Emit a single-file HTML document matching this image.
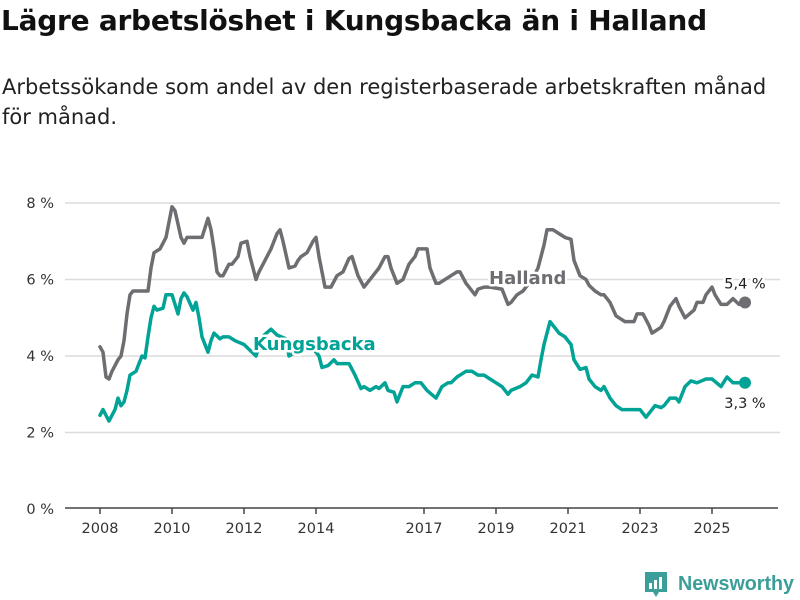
<!DOCTYPE html>
<html><head><meta charset="utf-8">
<style>
body{margin:0;background:#fff;font-family:"DejaVu Sans",sans-serif;}
#wrap{position:relative;width:800px;height:600px;overflow:hidden;}
h1{position:absolute;left:1px;top:4px;margin:0;font-size:28px;font-weight:bold;color:#111;letter-spacing:-0.25px;white-space:nowrap;}
p.sub{position:absolute;left:2px;top:72px;margin:0;font-size:21px;line-height:30px;color:#222;width:795px;letter-spacing:0;}
svg{position:absolute;left:0;top:0;}
</style></head><body>
<div id="wrap">
<h1>Lägre arbetslöshet i Kungsbacka än i Halland</h1>
<p class="sub">Arbetssökande som andel av den registerbaserade arbetskraften månad för månad.</p>
<svg id="chart" width="800" height="600"></svg>
</div>
<script>
const yTicks=[0,2,4,6,8];
const xTickYears=[2008,2010,2012,2014,2017,2019,2021,2023,2025];
const hallandMonths=[0,1,2,3,4,6,7,8,9,10,11,13,16,17,18,20,22,23,24,25,27,28,29,34,35,36,37,38,39,40,41,43,44,46,47,49,50,52,53,55,57,59,60,61,63,65,66,67,69,71,72,73,75,77,79,81,83,84,86,88,91,93,95,96,97,99,101,103,105,106,109,110,112,113,115,117,119,120,122,123,125,126,128,130,134,136,137,139,141,142,144,146,148,149,151,152,153,155,157,158,160,162,163,165,167,168,170,172,173,175,178,179,181,183,184,187,188,190,192,193,195,198,199,201,202,204,205,207,209,211,213,215];
const hallandValues=[4.24,4.1,3.45,3.4,3.6,3.9,4.0,4.4,5.1,5.6,5.7,5.7,5.7,6.3,6.7,6.8,7.1,7.5,7.9,7.8,7.1,6.95,7.1,7.1,7.35,7.6,7.3,6.8,6.2,6.1,6.1,6.4,6.4,6.6,6.95,7.0,6.6,6.0,6.2,6.5,6.8,7.2,7.3,7.0,6.3,6.35,6.5,6.6,6.7,7.0,7.1,6.6,5.8,5.8,6.1,6.2,6.55,6.6,6.1,5.8,6.1,6.3,6.6,6.6,6.3,5.9,6.0,6.4,6.6,6.8,6.8,6.3,5.9,5.9,6.0,6.1,6.2,6.2,5.9,5.8,5.6,5.75,5.8,5.8,5.75,5.35,5.4,5.6,5.7,5.8,6.0,6.3,6.9,7.3,7.3,7.25,7.2,7.1,7.05,6.5,6.1,6.0,5.85,5.7,5.6,5.6,5.4,5.05,5.0,4.9,4.9,5.1,5.1,4.8,4.6,4.75,4.9,5.3,5.5,5.3,5.0,5.2,5.4,5.4,5.6,5.8,5.6,5.35,5.35,5.5,5.35,5.4];
const kungsMonths=[0,1,2,3,5,6,7,8,9,10,12,13,14,15,16,17,18,19,21,22,24,25,26,27,28,29,31,32,33,34,36,37,38,40,41,43,45,48,52,54,57,59,62,63,67,70,73,74,76,78,79,83,85,87,88,90,92,93,95,96,98,99,101,103,105,107,109,112,114,116,117,119,122,124,126,128,130,132,134,136,137,140,142,144,146,147,148,149,150,152,153,155,157,158,160,162,163,165,167,168,170,172,174,176,180,182,183,185,187,188,190,192,193,195,197,199,202,204,207,209,211,213,215];
const kungsValues=[2.45,2.6,2.45,2.3,2.6,2.9,2.7,2.8,3.1,3.5,3.6,3.8,4.0,3.95,4.5,5.0,5.3,5.2,5.25,5.6,5.6,5.35,5.1,5.5,5.65,5.55,5.2,5.4,5.0,4.5,4.1,4.4,4.6,4.45,4.5,4.5,4.4,4.3,4.0,4.5,4.7,4.55,4.45,4.0,4.2,4.3,4.0,3.7,3.75,3.9,3.8,3.8,3.5,3.15,3.2,3.1,3.2,3.15,3.3,3.1,3.05,2.8,3.2,3.2,3.3,3.3,3.1,2.9,3.2,3.3,3.3,3.45,3.6,3.6,3.5,3.5,3.4,3.3,3.2,3.0,3.1,3.2,3.3,3.5,3.45,3.9,4.3,4.6,4.9,4.7,4.6,4.5,4.3,3.9,3.65,3.7,3.4,3.2,3.1,3.2,2.9,2.7,2.6,2.6,2.6,2.4,2.5,2.7,2.65,2.7,2.9,2.9,2.8,3.2,3.35,3.3,3.4,3.4,3.2,3.45,3.3,3.3,3.3];

const NS='http://www.w3.org/2000/svg';
const FONT='DejaVu Sans, sans-serif';
const svg=document.getElementById('chart');
const yScale=v=>509-38.25*v;
const xScale=m=>100+3*m;
const yearX=y=>xScale((y-2008)*12);
function mk(tag,attrs,parent){const e=document.createElementNS(NS,tag);for(const k in attrs)e.setAttribute(k,attrs[k]);(parent||svg).appendChild(e);return e;}

yTicks.forEach(t=>{
  if(t>0){const g=mk('line',{x1:65,x2:780,y1:yScale(t),y2:yScale(t),stroke:'#dcdcdc','stroke-width':1.5});
  
  }
  const tx=mk('text',{x:54,y:yScale(t)+5,'text-anchor':'end','font-size':14.5,fill:'#333','font-family':FONT});
  tx.textContent=t+' %';
  
  
});
const ax=mk('line',{x1:65,x2:778,y1:508,y2:508,stroke:'#444','stroke-width':1.5});


xTickYears.forEach(y=>{
  const x=yearX(y);
  const tk=mk('line',{x1:x,x2:x,y1:508,y2:514,stroke:'#444','stroke-width':1.5});
  
  
  const tx=mk('text',{x:x,y:533,'text-anchor':'middle','font-size':14.5,fill:'#333','font-family':FONT});
  tx.textContent=y;
  
  
});
function series(ms,vs,color,name){
  const d=ms.map((m,i)=>(i?'L':'M')+xScale(m).toFixed(1)+','+yScale(vs[i]).toFixed(1)).join('');
  const p=mk('path',{d:d,fill:'none',stroke:color,'stroke-width':3.5,'stroke-linejoin':'round','stroke-linecap':'round'});
  
  
  const n=ms.length-1;
  const c=mk('circle',{cx:xScale(ms[n]),cy:yScale(vs[n]),r:6,fill:color});
  
  
  return [xScale(ms[n]),yScale(vs[n]),vs[n]];
}
const h=series(hallandMonths,hallandValues,'#6d6d72','halland');
const k=series(kungsMonths,kungsValues,'#00a396','kungsbacka');
function lbl(x,y,txt,color,size,bold,name,anchor){
  const t=mk('text',{x:x,y:y,'font-size':size,'font-weight':bold?'bold':'normal',fill:color,stroke:'#fff','stroke-width':5,'paint-order':'stroke','stroke-linejoin':'round','text-anchor':anchor||'start','font-family':FONT});
  t.textContent=txt;
  
  
}
lbl(489,284,'Halland','#6d6d72',18,true,'halland-label');
lbl(253,350,'Kungsbacka','#00a396',18,true,'kungsbacka-label');
lbl(h[0],h[1]-14,h[2].toFixed(1).replace('.',',')+' %','#222',14.5,false,'halland-value-label','middle');
lbl(k[0],k[1]+25,k[2].toFixed(1).replace('.',',')+' %','#222',14.5,false,'kungsbacka-value-label','middle');

const lg=mk('g',{});


mk('path',{d:'M645 572 h22 v20 h-8 l-3 5 l-3 -5 h-8 z',fill:'#3b9e98'},lg);
mk('rect',{x:649,y:583,width:3,height:6,fill:'#fff'},lg);
mk('rect',{x:654,y:580,width:3,height:9,fill:'#fff'},lg);
mk('rect',{x:659,y:577,width:3,height:12,fill:'#fff'},lg);
const lt=mk('text',{x:678,y:590,'font-size':20,'font-weight':'bold',fill:'#3b9e98','font-family':'Liberation Sans, sans-serif',textLength:116,lengthAdjust:'spacingAndGlyphs'},lg);
lt.textContent='Newsworthy';
</script>
</body></html>
